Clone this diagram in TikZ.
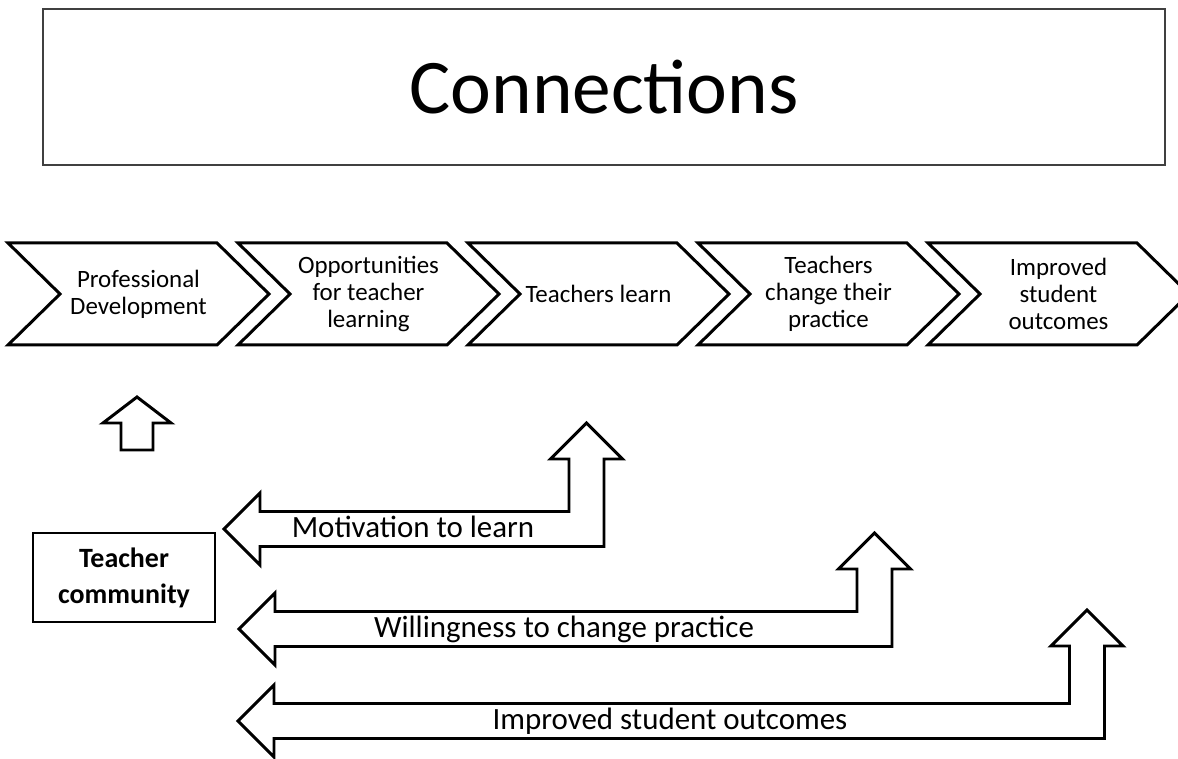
\documentclass[tikz,border=0pt]{standalone}
\usepackage{fontspec}
\setmainfont{Carlito}

\tikzset{
  chevron/.style={draw=black, line width=1.7pt, fill=white, line join=miter},
  chevtext/.style={align=center, inner sep=0pt, font=\fontsize{14.2}{15.3}\selectfont},
  bigarrow/.style={draw=black, line width=1.7pt, fill=white, line join=miter},
  arrowtext/.style={anchor=base, inner sep=0pt, font=\fontsize{17.6}{20}\selectfont},
  framebox/.style={draw=black, line width=0.8pt, align=center, inner sep=0pt},
}

\begin{document}
\begin{tikzpicture}[x=0.02cm, y=-0.02cm]
\def\d{52}
\def\h{17.5}
\def\w{36}
\def\l{36}
\useasboundingbox (0,0) rectangle (1178,759);

\node [framebox, draw=black!75, minimum width=22.44cm, minimum height=3.12cm, font=\fontsize{44}{48}\selectfont, name=title] at (604,87) {Connections};

%\draw (8,243) rectangle (269,345);
\foreach \x/\txt [count=\i] in {8/{Professional\\Development}, 238/{Opportunities\\for teacher\\learning}, 468/{Teachers learn}, 698/{Teachers\\change their\\practice}, 928/{Improved\\student\\outcomes}} {
  \draw [chevron] (\x,243) -- (\x+261-\d,243) -- (\x+261,294) -- (\x+261-\d,345) -- (\x,345) -- (\x+\d,294) -- cycle;
  \node [chevtext, name=p\i] at (\x+130.5,294) {\txt};
}

\draw [bigarrow] (137,397) -- (171,423) -- (153,423) -- (153,450) -- (121,450) -- (121,423) -- (103,423) -- cycle;

\node [framebox, minimum width=3.64cm, minimum height=1.78cm, font=\bfseries\fontsize{15.9}{20.4}\selectfont, name=community] at (124,577.5) {Teacher\\community};

\foreach \tx/\cy/\cx/\ty/\lx/\txt [count=\i] in {224/529/586.5/423/413/Motivation to learn, 239/629/874.5/533/564/Willingness to change practice, 238/721/1087/610/670/Improved student outcomes} {
  \draw [bigarrow] (\tx,\cy) -- (\tx+\l,\cy-\w) -- (\tx+\l,\cy-\h) -- (\cx-\h,\cy-\h) -- (\cx-\h,\ty+\l) -- (\cx-\w,\ty+\l) -- (\cx,\ty) -- (\cx+\w,\ty+\l) -- (\cx+\h,\ty+\l) -- (\cx+\h,\cy+\h) -- (\tx+\l,\cy+\h) -- (\tx+\l,\cy+\w) -- cycle;
  \node [arrowtext, name=m\i] at (\lx,\cy+9) {\txt};
}
\end{tikzpicture}
\end{document}
